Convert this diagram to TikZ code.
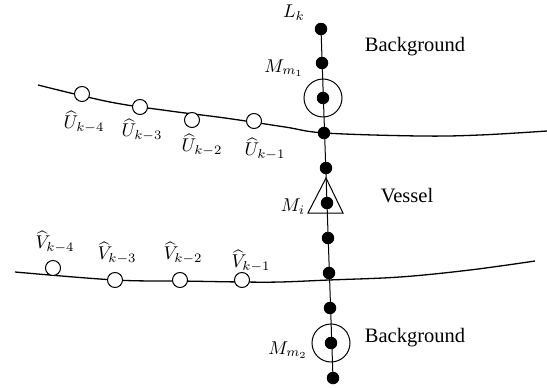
\documentclass[tikz,border=0pt]{standalone}
\usepackage{fontspec}
\setmainfont{Liberation Serif}
\usetikzlibrary{calc}
\newcommand{\bigmath}[1]{\scalebox{1.85}{$#1$}}
\begin{document}
\begin{tikzpicture}[x=1pt,y=-1pt,
  dot/.style={circle,fill=black,inner sep=0pt,minimum size=12.5pt},
  ring/.style={circle,draw,line width=1pt,fill=white,inner sep=0pt,minimum size=15pt},
  bigring/.style={circle,draw,line width=1pt,inner sep=0pt,minimum size=38pt},
  curve/.style={line width=1.3pt},
  lbl/.style={inner sep=0pt,font=\fontsize{10}{12}\selectfont},
  txt/.style={inner sep=0pt,anchor=base,font=\fontsize{20.5}{24}\selectfont}]
\useasboundingbox (0,0) rectangle (547,388);
% curves
\draw[curve] plot[smooth,tension=0.6] coordinates {(38,85) (110,102) (170,111) (225,118) (285,127) (325,133) (420,136) (480,135) (547,131)};
\draw[curve] plot[smooth,tension=0.6] coordinates {(15,272) (115,280) (180,281) (242,282) (280,282) (329,280) (400,277) (470,270) (535,261)};
% dots on vertical line
\node[dot] (d1) at (321,29) {};
\node[dot] (d2) at (322,63) {};
\node[dot] (d3) at (323,98) {};
\node[dot] (d4) at (324,133) {};
\node[dot] (d5) at (326,168) {};
\node[dot] (d6) at (327,203) {};
\node[dot] (d7) at (328,238) {};
\node[dot] (d8) at (329,273) {};
\node[dot] (d9) at (330,308) {};
\node[dot] (d10) at (331,343) {};
\node[dot] (d11) at (333,378) {};
\draw[line width=1pt] (d1.center) -- (d11.center);
\node[bigring] (c1) at (d3) {};
\node[bigring] (c2) at (d10) {};
\draw[line width=1pt] ($(d6)+(-1,-25)$) coordinate (tA) -- ($(d6)+(-19,10)$) coordinate (tB) -- ($(d6)+(16,10)$) coordinate (tC) -- cycle;
% open circles
\node[ring] (u4) at (82,94) {};
\node[ring] (u3) at (140,107) {};
\node[ring] (u2) at (192,120) {};
\node[ring] (u1) at (254,121) {};
\node[ring] (v4) at (53,268) {};
\node[ring] (v3) at (115,280) {};
\node[ring] (v2) at (180,280) {};
\node[ring] (v1) at (242,280) {};
% labels
\node[lbl] (lk) at (294,13) {\bigmath{L_k}};
\node[lbl] (mm1) at (284,68) {\bigmath{M_{m_1}}};
\node[lbl] (mi) at (293,207) {\bigmath{M_i}};
\node[lbl] (mm2) at (288,350) {\bigmath{M_{m_2}}};
\node[lbl] (lu4) at (84,122) {\bigmath{\widehat{U}_{k-4}}};
\node[lbl] (lu3) at (142,130) {\bigmath{\widehat{U}_{k-3}}};
\node[lbl] (lu2) at (202,145) {\bigmath{\widehat{U}_{k-2}}};
\node[lbl] (lu1) at (265,149) {\bigmath{\widehat{U}_{k-1}}};
\node[lbl] (lv4) at (55,242) {\bigmath{\widehat{V}_{k-4}}};
\node[lbl] (lv3) at (117,253) {\bigmath{\widehat{V}_{k-3}}};
\node[lbl] (lv2) at (183,253) {\bigmath{\widehat{V}_{k-2}}};
\node[lbl] (lv1) at (251,261) {\bigmath{\widehat{V}_{k-1}}};
\node[txt] (bg1) at (415,52) {Background};
\node[txt] (ves) at (407,202) {Vessel};
\node[txt] (bg2) at (415,342) {Background};
\end{tikzpicture}
\end{document}
